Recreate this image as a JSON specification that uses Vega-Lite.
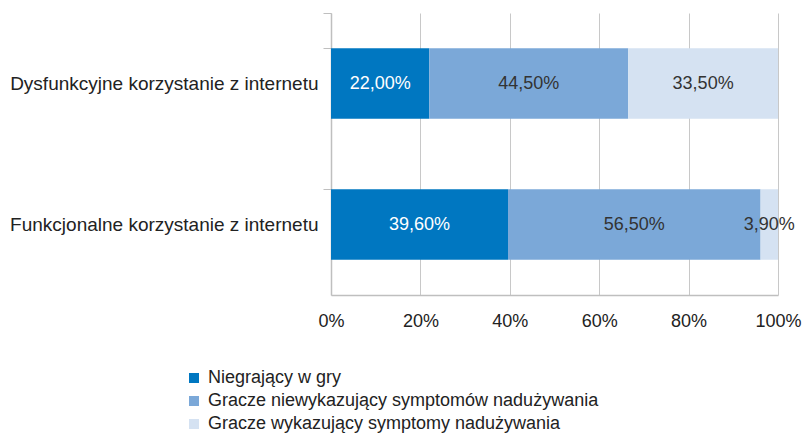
{
  "$schema": "https://vega.github.io/schema/vega-lite/v6.json",
  "width": 447,
  "height": 282,
  "autosize": {"type": "none"},
  "padding": {"left": 331, "top": 13, "right": 24, "bottom": 140},
  "background": "white",
  "config": {
    "locale": {"number": {"decimal": ",", "thousands": " ", "grouping": [3], "currency": ["", " zł"]}},
    "font": "Liberation Sans",
    "view": {"stroke": null}
  },
  "data": {
    "values": [
      {"cat": "Dysfunkcyjne korzystanie z internetu", "group": "Niegrający w gry", "ord": 1, "value": 0.22},
      {"cat": "Dysfunkcyjne korzystanie z internetu", "group": "Gracze niewykazujący symptomów nadużywania", "ord": 2, "value": 0.445},
      {"cat": "Dysfunkcyjne korzystanie z internetu", "group": "Gracze wykazujący symptomy nadużywania", "ord": 3, "value": 0.335},
      {"cat": "Funkcjonalne korzystanie z internetu", "group": "Niegrający w gry", "ord": 1, "value": 0.396},
      {"cat": "Funkcjonalne korzystanie z internetu", "group": "Gracze niewykazujący symptomów nadużywania", "ord": 2, "value": 0.565},
      {"cat": "Funkcjonalne korzystanie z internetu", "group": "Gracze wykazujący symptomy nadużywania", "ord": 3, "value": 0.039}
    ]
  },
  "encoding": {
    "y": {
      "field": "cat", "type": "nominal", "sort": null,
      "scale": {"paddingInner": 0.5, "paddingOuter": 0.25},
      "axis": {
        "title": null, "bandPosition": 0, "tickExtra": true, "tickSize": 8,
        "tickColor": "#BFBFBF", "domainColor": "#BFBFBF", "domainWidth": 1.5,
        "labelPadding": 5, "labelFontSize": 19, "labelColor": "#222", "labelLimit": 400, "grid": false
      }
    }
  },
  "layer": [
    {
      "mark": {"type": "bar"},
      "encoding": {
        "x": {
          "field": "value", "type": "quantitative", "stack": "zero",
          "scale": {"domain": [0, 1], "nice": false},
          "axis": {
            "title": null, "format": ".0%", "values": [0, 0.2, 0.4, 0.6, 0.8, 1],
            "tickSize": 0, "labelPadding": 17, "labelFontSize": 18, "labelColor": "#222", "labelFlush": false,
            "domainColor": "#BFBFBF", "domainWidth": 1.5, "gridColor": "#C8C8C8", "gridWidth": 1
          }
        },
        "order": {"field": "ord"},
        "color": {
          "field": "group", "type": "nominal",
          "scale": {
            "domain": ["Niegrający w gry", "Gracze niewykazujący symptomów nadużywania", "Gracze wykazujący symptomy nadużywania"],
            "range": ["#0077C1", "#7BA8D8", "#D5E2F2"]
          },
          "legend": {
            "title": null, "orient": "none", "legendX": -146, "legendY": 356,
            "symbolType": "square", "symbolSize": 100, "symbolStrokeWidth": 0,
            "labelFontSize": 18, "labelColor": "#222", "rowPadding": 5, "labelLimit": 500, "labelOffset": 5
          }
        }
      }
    },
    {
      "mark": {"type": "text", "fontSize": 18},
      "encoding": {
        "x": {"field": "value", "type": "quantitative", "stack": "zero", "bandPosition": 0.5},
        "order": {"field": "ord"},
        "detail": {"field": "group"},
        "text": {"field": "value", "type": "quantitative", "format": ".2%"},
        "color": {
          "condition": {"test": "datum.ord === 1", "value": "white"},
          "value": "#333"
        }
      }
    }
  ]
}
